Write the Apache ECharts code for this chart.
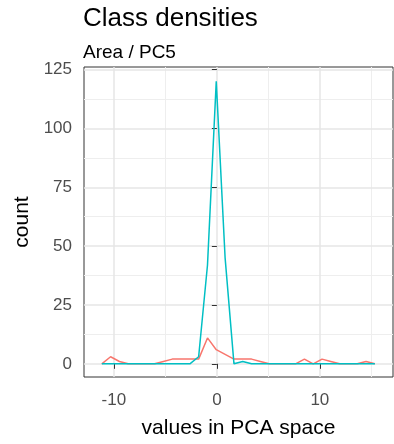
<!DOCTYPE html>
<html>
<head>
<meta charset="utf-8">
<script src="https://cdn.jsdelivr.net/npm/echarts@6/dist/echarts.min.js"></script>
<style>
  html, body { margin: 0; padding: 0; background: #ffffff; }
  #chart { width: 394px; height: 444px; }
</style>
</head>
<body>
<div id="chart"></div>
<script>
// Bin centres of the frequency polygon (values in PCA space)
const binCenters = [
  -11.17, -10.32, -9.46, -8.61, -7.75, -6.90, -6.04, -5.19,
  -4.33, -3.48, -2.62, -1.77, -0.91, -0.06, 0.80, 1.66,
  2.51, 3.37, 4.22, 5.08, 5.93, 6.79, 7.64, 8.50,
  9.35, 10.21, 11.06, 11.92, 12.77, 13.63, 14.48, 15.34
];

// Counts per bin for each class
const classA = [
  0, 3, 1, 0, 0, 0, 0, 1,
  2, 2, 2, 2, 11, 6, 4, 2,
  2, 2, 1, 0, 0, 0, 0, 2,
  0, 2, 1, 0, 0, 0, 1, 0
];
const classB = [
  0, 0, 0, 0, 0, 0, 0, 0,
  0, 0, 0, 3, 42, 120, 45, 0,
  1, 0, 0, 0, 0, 0, 0, 0,
  0, 0, 0, 0, 0, 0, 0, 0
];

const classColors = ['#F8766D', '#00BFC4'];

// Axis ticks
const xMajorTicks = [-10, 0, 10];
const xMinorTicks = [-5, 5, 15];
const yMajorTicks = [0, 25, 50, 75, 100, 125];
const yMinorTicks = [12.5, 37.5, 62.5, 87.5, 112.5];

const FONT = "'Liberation Sans', Arial, sans-serif";

function pairs(xs, ys) {
  return xs.map((x, i) => [x, ys[i]]);
}

const xRange = [-12.9, 17.1];
const yRange = [-5.6, 126.1];

const chart = echarts.init(document.getElementById('chart'), null, { renderer: 'canvas' });

chart.setOption({
  animation: false,
  backgroundColor: '#ffffff',
  title: [
    {
      text: 'Class densities',
      left: 83, top: 6, padding: 0,
      textStyle: { fontFamily: FONT, fontSize: 26, fontWeight: 'normal', color: '#000000' }
    },
    {
      text: 'Area / PC5',
      left: 83, top: 43, padding: 0,
      textStyle: { fontFamily: FONT, fontSize: 19, fontWeight: 'normal', color: '#000000' }
    }
  ],
  grid: {
    left: 84, right: 1, top: 67, bottom: 66,
    show: true, borderColor: '#333333', borderWidth: 1, backgroundColor: 'transparent'
  },
  xAxis: [
    {
      type: 'value', min: xRange[0], max: xRange[1],
      name: 'values in PCA space', nameLocation: 'middle', nameGap: 41,
      nameTextStyle: { fontFamily: FONT, fontSize: 21, color: '#000000' },
      axisLine: { show: false },
      axisTick: { show: true, length: 5, inside: false, customValues: xMajorTicks,
                  lineStyle: { color: '#333333', width: 1 } },
      axisLabel: { customValues: xMajorTicks, margin: 15, fontFamily: FONT, fontSize: 17, color: '#4D4D4D' },
      splitLine: { show: true, lineStyle: { color: '#E6E6E6', width: 1.5 } },
      z: 1
    },
    {
      type: 'value', min: xRange[0], max: xRange[1], position: 'bottom',
      axisLine: { show: false },
      axisTick: { show: false, customValues: xMinorTicks },
      axisLabel: { show: false, customValues: xMinorTicks },
      splitLine: { show: true, lineStyle: { color: '#EEEEEE', width: 1 } },
      z: 0
    }
  ],
  yAxis: [
    {
      type: 'value', min: yRange[0], max: yRange[1],
      name: 'count', nameLocation: 'middle', nameGap: 41,
      nameTextStyle: { fontFamily: FONT, fontSize: 21, color: '#000000' },
      axisLine: { show: false },
      axisTick: { show: true, length: 5, inside: false, customValues: yMajorTicks,
                  lineStyle: { color: '#333333', width: 1 } },
      axisLabel: { customValues: yMajorTicks, margin: 12, fontFamily: FONT, fontSize: 17, color: '#4D4D4D' },
      splitLine: { show: true, lineStyle: { color: '#E6E6E6', width: 1.5 } },
      z: 1
    },
    {
      type: 'value', min: yRange[0], max: yRange[1], position: 'left',
      axisLine: { show: false },
      axisTick: { show: false, customValues: yMinorTicks },
      axisLabel: { show: false, customValues: yMinorTicks },
      splitLine: { show: true, lineStyle: { color: '#EEEEEE', width: 1 } },
      z: 0
    }
  ],
  series: [
    {
      type: 'line', name: 'A', data: pairs(binCenters, classA),
      showSymbol: false, symbol: 'none',
      lineStyle: { color: classColors[0], width: 1.5 },
      itemStyle: { color: classColors[0] },
      z: 3
    },
    {
      type: 'line', name: 'B', data: pairs(binCenters, classB),
      showSymbol: false, symbol: 'none',
      lineStyle: { color: classColors[1], width: 1.5 },
      itemStyle: { color: classColors[1] },
      z: 4
    }
  ]
});
</script>
</body>
</html>
